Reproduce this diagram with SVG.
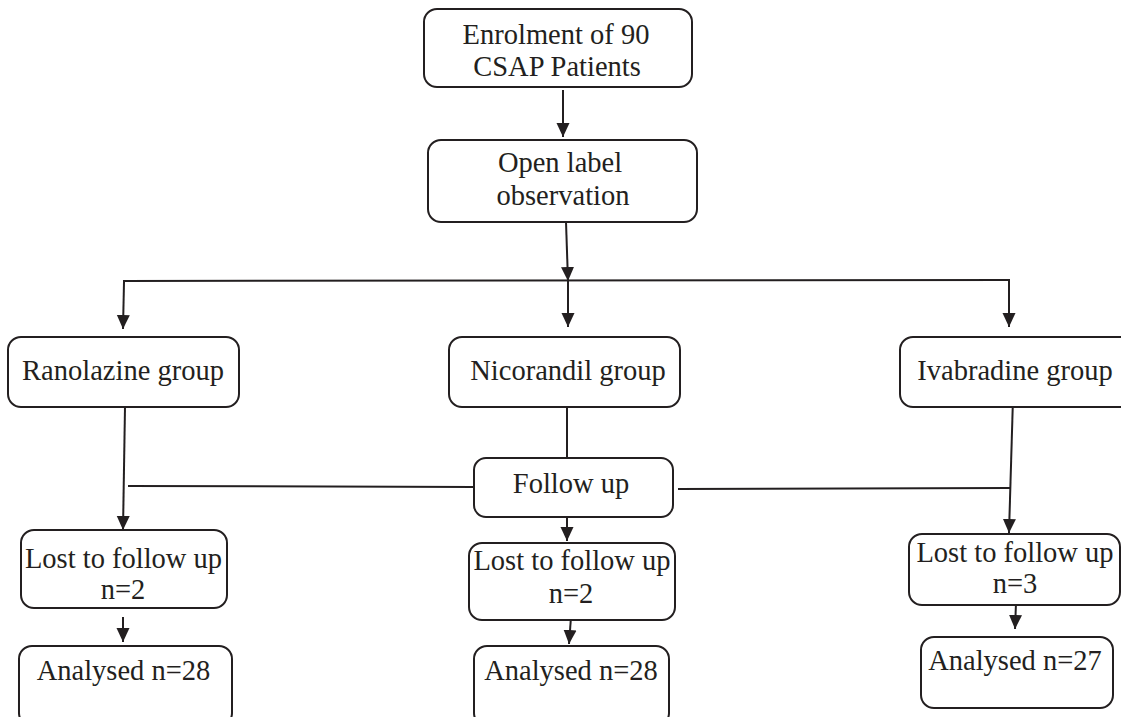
<svg xmlns="http://www.w3.org/2000/svg" width="1121" height="717" viewBox="0 0 1121 717">
<defs>
<style>
.box{fill:#fff;stroke:#231f20;stroke-width:2}
.t{font-family:"Liberation Serif","Times New Roman",serif;font-size:28.5px;fill:#231f20;text-anchor:middle}
.c{stroke:#231f20;stroke-width:2;fill:none}
.a{marker-end:url(#arr)}
</style>
<marker id="arr" markerUnits="userSpaceOnUse" markerWidth="14" markerHeight="14" viewBox="0 0 14 14" refX="14" refY="7" orient="auto">
<path d="M0,0.5 L14,7 L0,13.5 z" fill="#231f20"/>
</marker>
</defs>
<rect width="1121" height="717" fill="#fff"/>
<g id="connectors">
<path class="c a" d="M563,90 L563,137"/>
<path class="c a" d="M566,222 L568,281"/>
<path class="c" d="M123,281 L1010,280"/>
<path class="c a" d="M124,282 L123,329"/>
<path class="c a" d="M568,281 L568,327"/>
<path class="c a" d="M1009,280 L1009,327"/>
<path class="c a" d="M125,407 L123,530"/>
<path class="c" d="M128,486 L474,487"/>
<path class="c" d="M567,407 L567,458"/>
<path class="c" d="M678,489 L1010,488"/>
<path class="c a" d="M1013,398 L1009,533"/>
<path class="c a" d="M567,517 L567,541"/>
<path class="c a" d="M123,617 L123,642"/>
<path class="c a" d="M571,617 L569,644"/>
<path class="c a" d="M1016,603 L1015,629"/>
</g>
<g id="enrolment">
<rect class="box" x="424" y="9" width="268" height="78" rx="13"/>
<text class="t" x="556" y="44">Enrolment of 90</text>
<text class="t" x="557" y="76">CSAP Patients</text>
</g>
<g id="open-label">
<rect class="box" x="428" y="140" width="269" height="82" rx="13"/>
<text class="t" x="560" y="172">Open label</text>
<text class="t" x="563" y="205">observation</text>
</g>
<g id="ranolazine">
<rect class="box" x="8" y="337" width="231" height="70" rx="13"/>
<text class="t" x="123" y="380">Ranolazine group</text>
</g>
<g id="nicorandil">
<rect class="box" x="449" y="337" width="231" height="70" rx="13"/>
<text class="t" x="568" y="380">Nicorandil group</text>
</g>
<g id="ivabradine">
<rect class="box" x="900" y="337" width="240" height="70" rx="13"/>
<text class="t" x="1015" y="380">Ivabradine group</text>
</g>
<g id="follow-up">
<rect class="box" x="474" y="458" width="199" height="59" rx="12"/>
<text class="t" x="571" y="493">Follow up</text>
</g>
<g id="lost-left">
<rect class="box" x="21" y="530" width="206" height="78" rx="13"/>
<text class="t" x="123.5" y="568">Lost to follow up</text>
<text class="t" x="123" y="599">n=2</text>
</g>
<g id="lost-mid">
<rect class="box" x="469" y="543" width="206" height="77" rx="13"/>
<text class="t" x="572" y="570">Lost to follow up</text>
<text class="t" x="571" y="603">n=2</text>
</g>
<g id="lost-right">
<rect class="box" x="909" y="534" width="211" height="71" rx="13"/>
<text class="t" x="1015" y="562">Lost to follow up</text>
<text class="t" x="1015" y="593">n=3</text>
</g>
<g id="analysed-left">
<rect class="box" x="19" y="646" width="213" height="80" rx="13"/>
<text class="t" x="123.5" y="680">Analysed n=28</text>
</g>
<g id="analysed-mid">
<rect class="box" x="474" y="646" width="195" height="80" rx="13"/>
<text class="t" x="571" y="680">Analysed n=28</text>
</g>
<g id="analysed-right">
<rect class="box" x="921" y="637" width="192" height="71" rx="13"/>
<text class="t" x="1015" y="670">Analysed n=27</text>
</g>
</svg>
